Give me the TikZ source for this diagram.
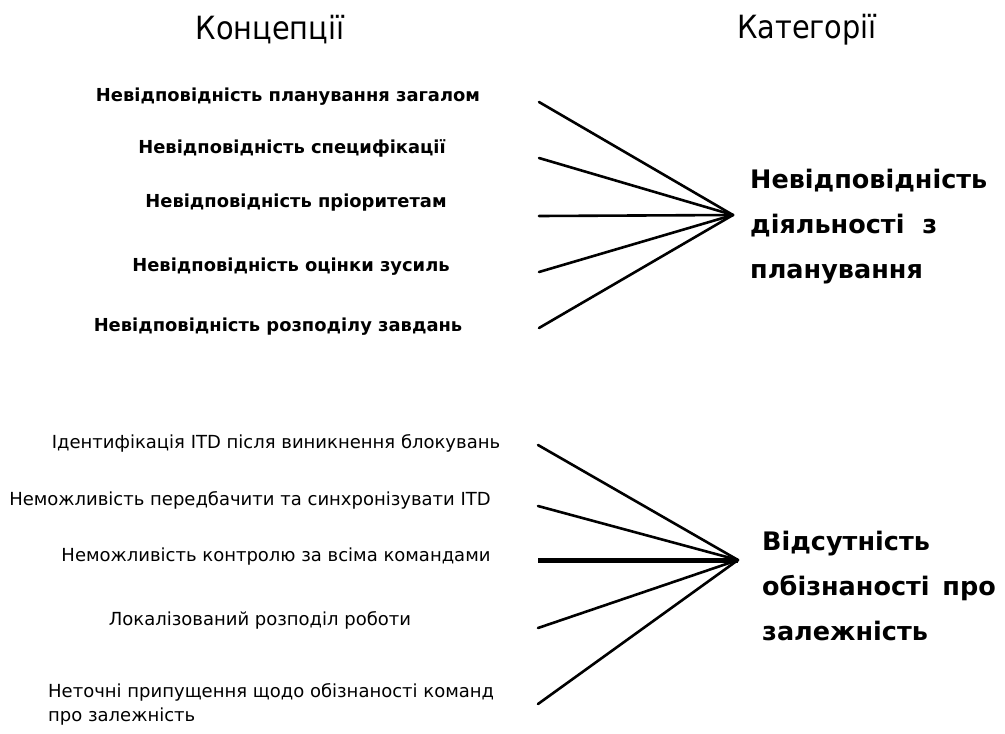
\documentclass[tikz,border=0pt]{standalone}
\usepackage{fontspec}
\setmainfont{DejaVu Sans}
\newfontfamily\condfont{DejaVu Sans Condensed}
\begin{document}
\begin{tikzpicture}[x=1pt,y=-1pt,
  header/.style={font=\condfont\fontsize{32}{36}\selectfont, inner sep=0pt},
  concept/.style={font=\bfseries\fontsize{17.9}{20}\selectfont, inner sep=0pt},
  conceptlow/.style={font=\fontsize{18}{22}\selectfont, inner sep=0pt},
  category/.style={font=\bfseries\fontsize{25.5}{45}\selectfont, align=left, inner sep=0pt, anchor=west},
  link/.style={line width=2.6pt, line cap=round},
  boldlink/.style={line width=5pt}]
\useasboundingbox (0,0) rectangle (1005,734);

% column headers
\node[header] (hc) at (270,30) {Концепції};
\node[header] (hk) at (807,30) {Категорії};

% first group: planning mismatch
\node[concept] (c1) at (288,97) {Невідповідність планування загалом};
\node[concept] (c2) at (292,148) {Невідповідність специфікації};
\node[concept] (c3) at (296,203) {Невідповідність пріоритетам};
\node[concept] (c4) at (291,267) {Невідповідність оцінки зусиль};
\node[concept] (c5) at (278,327) {Невідповідність розподілу завдань};

\coordinate (a1) at (539,102);
\coordinate (a2) at (539,158);
\coordinate (a3) at (539,216);
\coordinate (a4) at (539,272);
\coordinate (a5) at (539,328);
\coordinate (ha) at (733,215);

\node[category] (k1) at (750,227) {Невідповідність\\діяльності\ \ з\\планування};

\foreach \i in {1,...,5} \draw[link] (a\i) -- (ha);

% second group: dependency awareness
\node[conceptlow] (d1) at (276,443) {Ідентифікація ITD після виникнення блокувань};
\node[conceptlow] (d2) at (250,500) {Неможливість передбачити та синхронізувати ITD};
\node[conceptlow] (d3) at (276,557) {Неможливість контролю за всіма командами};
\node[conceptlow] (d4) at (260,620) {Локалізований розподіл роботи};
\node[conceptlow, align=left, anchor=north west] (d5) at (48,683) {Неточні припущення щодо обізнаності команд\\[2pt]про залежність};

\coordinate (b1) at (538,445);
\coordinate (b2) at (538,506);
\coordinate (b3) at (538,560);
\coordinate (b4) at (538,628);
\coordinate (b5) at (538,704);
\coordinate (hb) at (738,560);

\node[category] (k2) at (762,586) {Відсутність\\обізнаності\hspace{0.5em}про\\залежність};

\foreach \i in {1,2,4,5} \draw[link] (b\i) -- (hb);
\draw[boldlink] (b3) -- (hb);
\end{tikzpicture}
\end{document}
